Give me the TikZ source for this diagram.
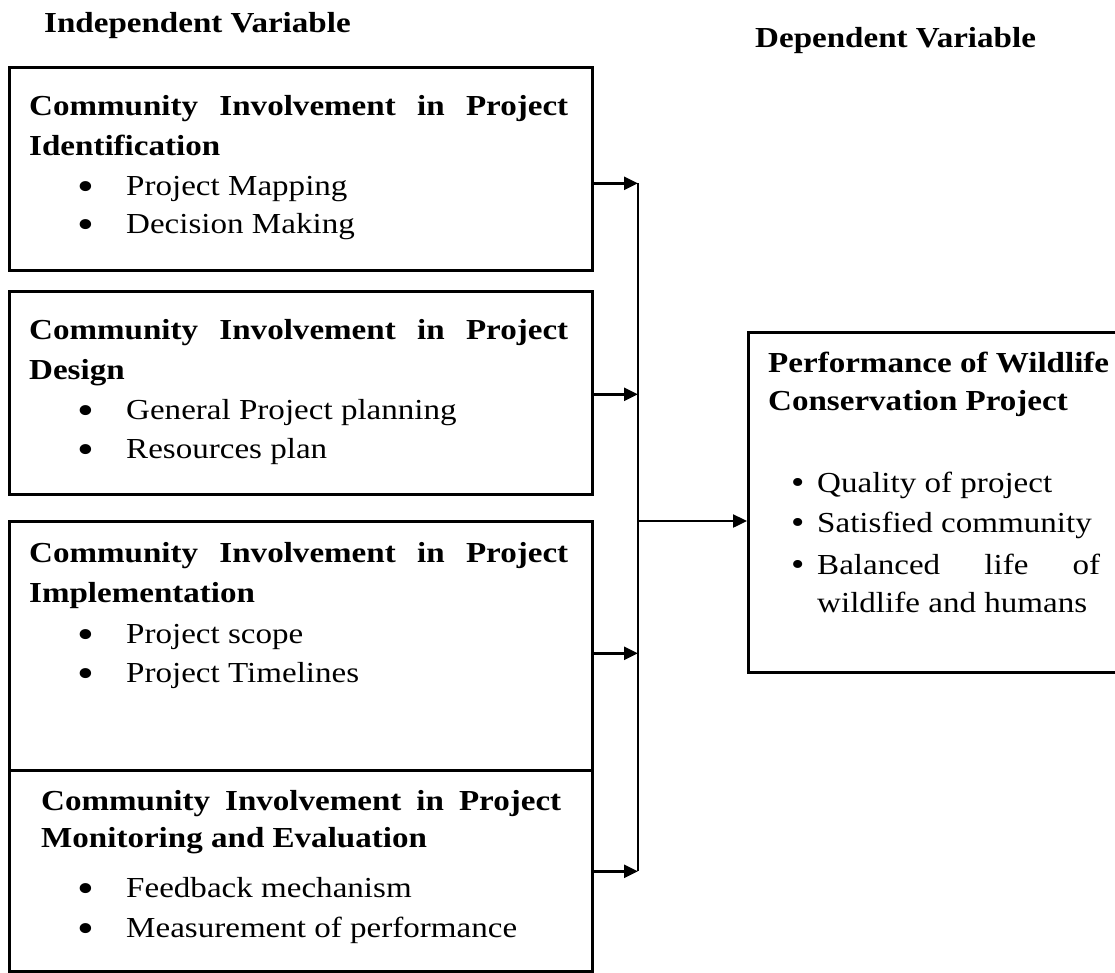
\documentclass[tikz,border=0pt]{standalone}
\usepackage{graphicx}
\usepackage{fontspec}
\setmainfont{Liberation Serif}[FakeStretch=1.14]
\usetikzlibrary{arrows.meta,calc}
\newcommand{\fsz}{\fontsize{29}{40}\selectfont}
\newcommand{\bigdot}{\raisebox{-5pt}{\scalebox{1.45}{\textbullet}}}
\newcommand{\cbul}{\hspace*{48pt}\makebox[49pt][l]{\bigdot}}
\newcommand{\rbul}{\hspace*{23pt}\makebox[26pt][l]{\raisebox{-1.5pt}{\scalebox{1.15}{\textbullet}}}}
\begin{document}
\begin{tikzpicture}[x=1pt,y=-1pt,
  box/.style={draw, line width=2.6pt, anchor=north west, inner sep=0pt, minimum width=583pt},
  txt/.style={anchor=base west, inner sep=0pt},
  head/.style={anchor=base west, inner sep=0pt, font=\fontsize{29}{35}\selectfont\bfseries},
  arr/.style={line width=2.4pt, -{Triangle[length=14pt,width=13pt]}},
  busline/.style={line width=2.4pt}]
\useasboundingbox (0,0) rectangle (1115,972);

% headings
\node[head] (iv) at (44,32) {Independent Variable};
\node[head] (dv) at (755,47) {Dependent Variable};

% boxes
\node[box, minimum height=203pt] (b1) at (8,66) {};
\node[box, minimum height=203pt] (b2) at (8,290) {};
\node[box, minimum height=249pt] (b3) at (8,520) {};
\node[box, minimum height=201pt] (b4) at (8,769) {};
\node[box, minimum width=380pt, minimum height=340pt] (rb) at (747,331) {};

% texts
\node[txt] (t1) at ($(b1.north west)+(21,49)$) {\parbox[t]{560pt}{\fsz\bfseries
  \makebox[539pt][l]{Community\hfill Involvement\hfill in\hfill Project}\\
  Identification\\
  \mdseries\cbul Project Mapping\\[-2pt]
  \cbul Decision Making}};

\node[txt] (t2) at ($(b2.north west)+(21,49)$) {\parbox[t]{560pt}{\fsz\bfseries
  \makebox[539pt][l]{Community\hfill Involvement\hfill in\hfill Project}\\
  Design\\
  \mdseries\cbul General Project planning\\[-1pt]
  \cbul Resources plan}};

\node[txt] (t3) at ($(b3.north west)+(21,42)$) {\parbox[t]{560pt}{\fsz\bfseries
  \makebox[539pt][l]{Community\hfill Involvement\hfill in\hfill Project}\\
  Implementation\\[1pt]
  \mdseries\cbul Project scope\\[-1pt]
  \cbul Project Timelines}};

\node[txt] (t4) at ($(b4.north west)+(33,41)$) {\parbox[t]{550pt}{\fsz\bfseries
  \makebox[520pt][l]{Community\hfill Involvement\hfill in\hfill Project}\\[-3pt]
  Monitoring and Evaluation\\[10pt]
  \mdseries\hspace*{-12pt}\cbul Feedback mechanism\\
  \hspace*{-12pt}\cbul Measurement of performance}};

\node[txt] (tr) at ($(rb.north west)+(21,41)$) {\parbox[t]{360pt}{\fsz\bfseries
  Performance of Wildlife\\[-2pt]
  Conservation Project\\[42pt]
  \mdseries\rbul Quality of project\\
  \rbul Satisfied community\\[2pt]
  \rbul \makebox[283pt][l]{Balanced\hfill life\hfill of}\\[-2pt]
  \hspace*{49pt}wildlife and humans}};

% connectors
\coordinate (bus) at (638,521);
\coordinate (a1) at ($(b1.east)+(0,14.5)$);
\coordinate (a2) at ($(b2.east)+(0,1.5)$);
\coordinate (a3) at ($(b3.east)+(0,7.5)$);
\coordinate (a4) at ($(b4.east)+(0,0.5)$);
\draw[busline] (a1 -| bus) -- (a4 -| bus);
\foreach \a in {a1,a2,a3,a4} \draw[arr] (\a) -- (\a -| bus);
\draw[arr] (bus) -- (bus -| rb.west);
\end{tikzpicture}
\end{document}
